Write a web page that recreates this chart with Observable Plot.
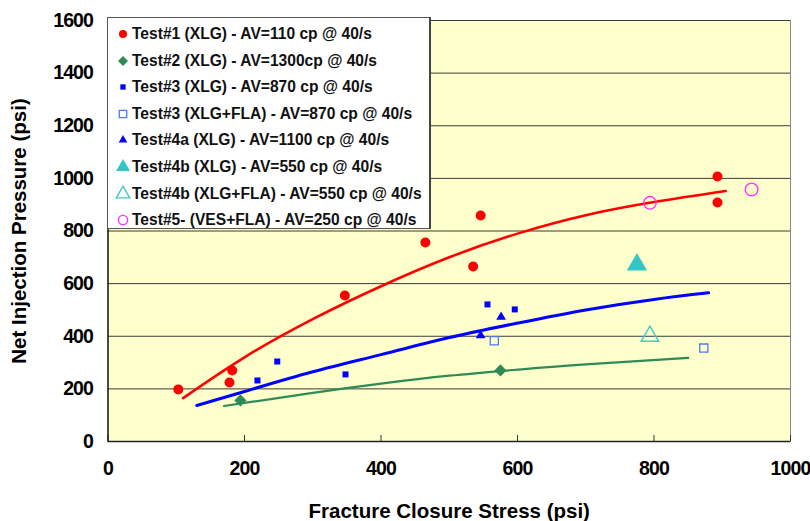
<!DOCTYPE html>
<html>
<head>
<meta charset="utf-8">
<script src="https://cdn.jsdelivr.net/npm/d3@7"></script>
<script src="https://cdn.jsdelivr.net/npm/@observablehq/plot@0.6"></script>
<style>
  html, body { margin: 0; padding: 0; background: #fff; }
  #wrap { position: relative; width: 810px; height: 521px; font-family: "Liberation Sans", Arial, sans-serif; }
  #legend { position: absolute; left: 107px; top: 17px; width: 324px; height: 212px; background: #fff;
            border: 1px solid #555; border-right: 2px solid #444; box-sizing: border-box; }
  .row { position: absolute; left: 8px; height: 20px; display: flex; align-items: center; font-weight: bold; font-size: 15.6px; color: #111; white-space: nowrap; }
  .row svg { width: 14px; height: 14px; margin-right: 2px; overflow: visible; }
  g[aria-label="x-axis tick label"] text, g[aria-label="y-axis tick label"] text { letter-spacing: -0.9px; }
  g[aria-label="x-axis label"] text, g[aria-label="y-axis label"] text { font-size: 20.5px; }
</style>
</head>
<body>
<div id="wrap"><div id="legend"></div></div>
<script>
// ---- data ----
const test1X = [103, 182, 178, 347, 465, 535, 546, 893, 893];
const test1Y = [198, 270, 224, 555, 756, 665, 859, 1007, 908];
const test2X = [194, 575];
const test2Y = [156, 270];
const test3X = [219, 248, 348, 556, 596];
const test3Y = [232, 304, 255, 521, 502];
const test3flaX = [566, 873];
const test3flaY = [383, 355];
const test4aX = [546, 576];
const test4aY = [403, 473];
const test4bX = [775];
const test4bY = [672];
const test4bflaX = [794];
const test4bflaY = [400];
const test5X = [794, 943];
const test5Y = [907, 958];

// trend lines
const redFitX = [110, 200, 300, 400, 500, 600, 700, 800, 905];
const redFitY = [165, 320, 465, 590, 700, 790, 860, 910, 952];
const blueFitX = [130, 200, 300, 400, 500, 600, 700, 800, 880];
const blueFitY = [137, 190, 265, 330, 395, 450, 500, 540, 565];
const greenFitX = [170, 300, 400, 500, 600, 700, 850];
const greenFitY = [135, 185, 220, 250, 273, 293, 318];

const xTicks = [0, 200, 400, 600, 800, 1000];
const yTicks = [0, 200, 400, 600, 800, 1000, 1200, 1400, 1600];

const legendLabels = [
  "Test#1 (XLG) - AV=110 cp @ 40/s",
  "Test#2 (XLG) - AV=1300cp @ 40/s",
  "Test#3 (XLG) - AV=870 cp @ 40/s",
  "Test#3 (XLG+FLA) - AV=870 cp @ 40/s",
  "Test#4a (XLG) - AV=1100 cp @ 40/s",
  "Test#4b (XLG) - AV=550 cp @ 40/s",
  "Test#4b (XLG+FLA) - AV=550 cp @ 40/s",
  "Test#5- (VES+FLA) - AV=250 cp @ 40/s"
];

const zip = (xs, ys) => xs.map((x, i) => ({x, y: ys[i]}));

const series = [
  {data: zip(test1X, test1Y), symbol: "circle", fill: "#ff0000", stroke: "none", r: 5},
  {data: zip(test2X, test2Y), symbol: "diamond2", fill: "#2e8b57", stroke: "none", r: 5.5},
  {data: zip(test3X, test3Y), symbol: "square", fill: "#0000ff", stroke: "none", r: 3.4},
  {data: zip(test3flaX, test3flaY), symbol: "square", fill: "none", stroke: "#4a7af0", r: 4.6, sw: 1.3},
  {data: zip(test4aX, test4aY), symbol: "triangle", fill: "#0000ff", stroke: "none", r: 3.6},
  {data: zip(test4bX, test4bY), symbol: "triangle", fill: "#33c6c6", stroke: "none", r: 7.5},
  {data: zip(test4bflaX, test4bflaY), symbol: "triangle", fill: "none", stroke: "#44c8c8", r: 6.5, sw: 1.4},
  {data: zip(test5X, test5Y), symbol: "circle", fill: "none", stroke: "#ff33ff", r: 6.3, sw: 1.4}
];

const plot = Plot.plot({
  width: 810,
  height: 521,
  marginLeft: 107.5,
  marginRight: 20,
  marginTop: 20,
  marginBottom: 80,
  style: {fontFamily: "'Liberation Sans', Arial, sans-serif", fontWeight: "bold", fontSize: "19.5px", background: "#fff", color: "#000"},
  x: {domain: [0, 1000]},
  y: {domain: [0, 1600]},
  marks: [
    Plot.frame({fill: "#ffffcc", stroke: "#888"}),
    Plot.gridY(yTicks.slice(1), {stroke: "#3a3a3a", strokeOpacity: 1, strokeWidth: 1}),
    Plot.axisY({ticks: yTicks, tickFormat: d => String(d), tickSize: 0, tickPadding: 15, label: "Net Injection Pressure (psi)", labelAnchor: "center", labelArrow: "none", labelOffset: 97, fontSize: 19.5}),
    Plot.axisX({ticks: xTicks, tickSize: -6, text: null, label: null, stroke: "#333"}),
    Plot.axisX({ticks: xTicks, tickFormat: d => String(d), tickSize: 0, tickPadding: 20, label: "Fracture Closure Stress (psi)", labelAnchor: "center", labelArrow: "none", labelOffset: 76, fontSize: 19.5}),
    Plot.ruleY([0], {stroke: "#222", strokeWidth: 1.5}),
    Plot.ruleX([0], {stroke: "#222", strokeWidth: 1.5}),
    Plot.line(zip(greenFitX, greenFitY), {x: "x", y: "y", stroke: "#2e8b57", strokeWidth: 2.2, curve: "natural"}),
    Plot.line(zip(blueFitX, blueFitY), {x: "x", y: "y", stroke: "#0000ff", strokeWidth: 3, curve: "natural"}),
    Plot.line(zip(redFitX, redFitY), {x: "x", y: "y", stroke: "#ff0000", strokeWidth: 2.6, curve: "natural"}),
    ...series.map(s => Plot.dot(s.data, {x: "x", y: "y", symbol: () => s.symbol, r: s.r, fill: s.fill, stroke: s.stroke, strokeWidth: s.sw || 1}))
  ]
});

document.getElementById("wrap").prepend(plot);

// legend
const legend = document.getElementById("legend");
const symMap = {circle: d3.symbolCircle, "diamond2": d3.symbolDiamond2, square: d3.symbolSquare, triangle: d3.symbolTriangle};
const legendR = [4, 4.5, 3, 4.2, 3.2, 5.2, 5, 4.6];
legendLabels.forEach((label, i) => {
  const s = series[i];
  const row = document.createElement("div");
  row.className = "row";
  row.style.top = (6 + i * 26.6) + "px";
  const r = legendR[i];
  const path = d3.symbol(symMap[s.symbol], Math.PI * r * r)();
  const svgNS = "http://www.w3.org/2000/svg";
  const svg = document.createElementNS(svgNS, "svg");
  svg.setAttribute("viewBox", "-7 -7 14 14");
  const p = document.createElementNS(svgNS, "path");
  p.setAttribute("d", path);
  p.setAttribute("fill", s.fill);
  p.setAttribute("stroke", s.stroke);
  p.setAttribute("stroke-width", s.sw || 1);
  svg.appendChild(p);
  row.appendChild(svg);
  const span = document.createElement("span");
  span.textContent = label;
  row.appendChild(span);
  legend.appendChild(row);
});
</script>
</body>
</html>
